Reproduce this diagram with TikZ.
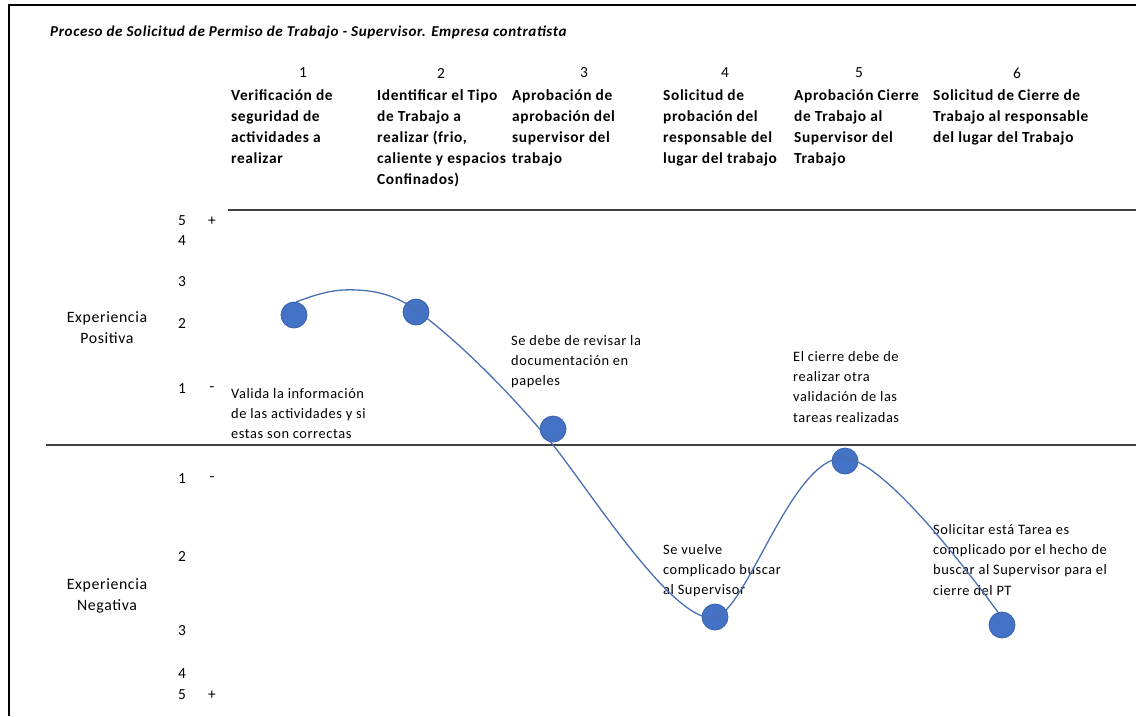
\documentclass[tikz,border=0pt]{standalone}
\usepackage{fontspec}
\setmainfont{Carlito}[LetterSpace=4]
\definecolor{dotblue}{HTML}{4472C4}
\definecolor{dotedge}{HTML}{3A62AD}
\definecolor{curveblue}{HTML}{4A6FB5}
\definecolor{rulegray}{HTML}{404040}
\tikzset{
  hdr/.style={anchor=north west, inner sep=0pt, align=left, font=\fontsize{15.4}{21}\selectfont\bfseries},
  num/.style={inner sep=0pt, font=\fontsize{15.4}{18}\selectfont},
  note/.style={anchor=north west, inner sep=0pt, align=left, font=\fontsize{14.4}{20.3}\selectfont},
  side/.style={inner sep=0pt, align=center, font=\fontsize{15.8}{21}\selectfont},
  dot/.style={circle, fill=dotblue, draw=dotedge, line width=0.8pt, minimum size=26pt, inner sep=0pt},
  rule/.style={draw=rulegray, line width=1.6pt},
}
\begin{document}
\begin{tikzpicture}[x=1pt,y=-1pt]
\useasboundingbox (0,0) rectangle (1136,716);
% frame
\draw[line width=2.2pt] (9,716) -- (9,5) -- (1136,5);
% title
\node[anchor=west, inner sep=0pt, font=\fontsize{15.1}{18}\selectfont\bfseries\itshape] (title) at (50,32) {Proceso de Solicitud de Permiso de Trabajo - Supervisor. Empresa contratista};
% column numbers
\node[num] (n1) at (303,73) {1};
\node[num] (n2) at (441,73) {2};
\node[num] (n3) at (584,73) {3};
\node[num] (n4) at (725,73) {4};
\node[num] (n5) at (859,73) {5};
\node[num] (n6) at (1017,73) {6};
% headers
\node[hdr] (h1) at (231,89) {Verificación de\\seguridad de\\actividades a\\realizar};
\node[hdr] (h2) at (377,89) {Identificar el Tipo\\de Trabajo a\\realizar (frio,\\caliente y espacios\\Confinados)};
\node[hdr] (h3) at (512,89) {Aprobación de\\aprobación del\\supervisor del\\trabajo};
\node[hdr] (h4) at (663,89) {Solicitud de\\probación del\\responsable del\\lugar del trabajo};
\node[hdr] (h5) at (794,89) {Aprobación Cierre\\de Trabajo al\\Supervisor del\\Trabajo};
\node[hdr] (h6) at (933,89) {Solicitud de Cierre de\\Trabajo al responsable\\del lugar del Trabajo};
% rules
\coordinate (r1a) at (228,210); \coordinate (r1b) at (1136,210);
\coordinate (r2a) at (46,445);  \coordinate (r2b) at (1136,445);
\draw[rule] (r1a) -- (r1b);
\draw[rule] (r2a) -- (r2b);
% scale positive
\node[num] (p5) at (182,221) {5};
\node[num] (p4) at (182,241) {4};
\node[num] (p3) at (182,282) {3};
\node[num] (p2) at (182,323) {2};
\node[num] (p1) at (182,389) {1};
\node[num] (pplus) at (212,221) {+};
\node[num] (pminus) at (212,389) {-};
\node[side] (pos) at (107,328) {Experiencia\\Positiva};
% scale negative
\node[num] (m1) at (182,479) {1};
\node[num] (m2) at (182,556) {2};
\node[num] (m3) at (182,631) {3};
\node[num] (m4) at (182,674) {4};
\node[num] (m5) at (182,695) {5};
\node[num] (mminus) at (212,479) {-};
\node[num] (mplus) at (212,695) {+};
\node[side] (neg) at (107,596) {Experiencia\\Negativa};
% notes
\node[note] (t1) at (231,388) {Valida la información\\de las actividades y si\\estas son correctas};
\node[note] (t3) at (511,335) {Se debe de revisar la\\documentación en\\papeles};
\node[note] (t5) at (793,351) {El cierre debe de\\realizar otra\\validación de las\\tareas realizadas};
\node[note] (t4) at (663,544) {Se vuelve\\complicado buscar\\al Supervisor};
\node[note] (t6) at (933,524) {Solicitar está Tarea es\\complicado por el hecho de\\buscar al Supervisor para el\\cierre del PT};
% dots
\node[dot] (d1) at (294,315) {};
\node[dot] (d2) at (416,312) {};
\node[dot] (d3) at (553,429) {};
\node[dot] (d4) at (715,617) {};
\node[dot] (d5) at (845,461) {};
\node[dot] (d6) at (1002,625) {};
% curve
\coordinate (c0) at (296,302);
\coordinate (c1) at (357,290);
\coordinate (c2) at (416,310);
\coordinate (c3) at (553,445);
\coordinate (c4) at (712,618);
\coordinate (c5) at (843,458);
\coordinate (c6) at (1000,615);
\draw[curveblue, line width=1.3pt] (c0) .. controls (322,292) and (337,289) .. (c1)
  .. controls (380,291) and (398,297) .. (c2)
  .. controls (460,342) and (515,398) .. (c3)
  .. controls (590,491) and (670,618) .. (c4)
  .. controls (745,618) and (790,458) .. (c5)
  .. controls (880,458) and (960,560) .. (c6);
\end{tikzpicture}
\end{document}
